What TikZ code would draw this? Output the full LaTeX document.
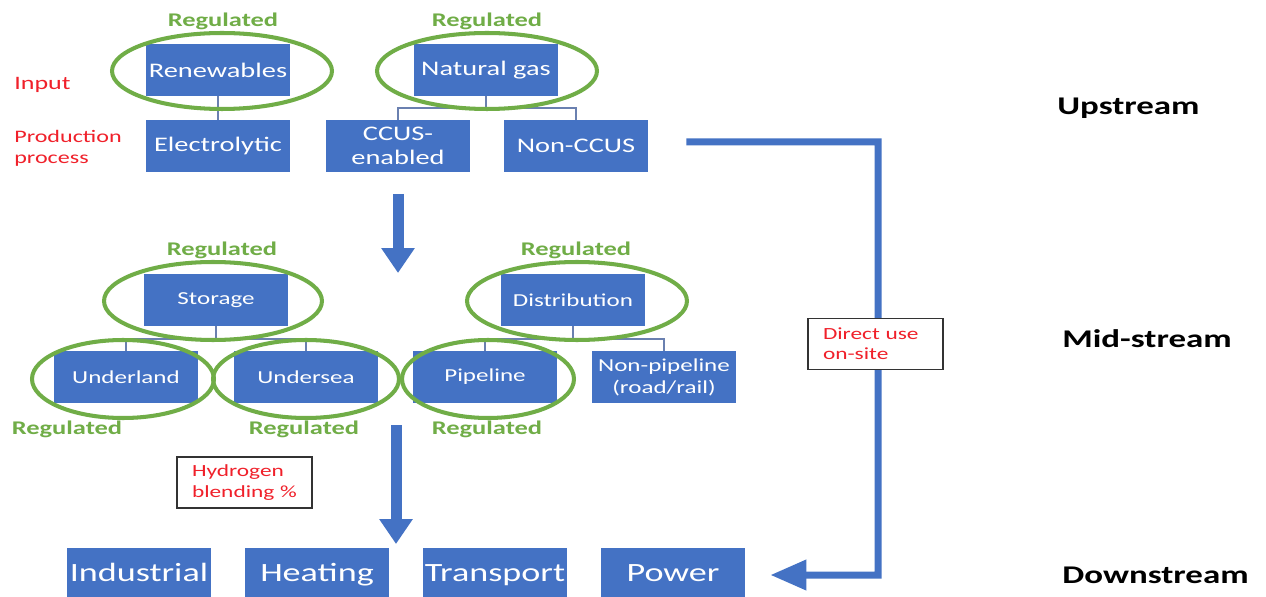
\documentclass[tikz,border=0pt]{standalone}
\usepackage{fontspec}
\setmainfont{Carlito}[FakeStretch=1.37]
\usetikzlibrary{arrows.meta}
\definecolor{boxblue}{HTML}{4472C4}
\definecolor{ringgreen}{HTML}{70AD47}
\definecolor{linkgray}{HTML}{6A80B0}
\definecolor{notered}{HTML}{F0202A}
\tikzset{
  bluebox/.style={fill=boxblue, text=white, minimum width=2.88cm, minimum height=1.04cm, inner sep=0pt, align=center, font=\fontsize{11.8}{13.5}\selectfont},
  midbox/.style={bluebox, font=\fontsize{10.4}{12.5}\selectfont},
  endbox/.style={bluebox, minimum height=1.08cm, text height=11pt, text depth=3.5pt, font=\fontsize{15}{17}\selectfont},
  ring/.style={draw=ringgreen, line width=2.3pt},
  reglabel/.style={text=ringgreen, font=\bfseries\fontsize{11}{12}\selectfont, inner sep=0pt},
  redlabel/.style={text=notered, font=\fontsize{10}{12}\selectfont, align=left, inner sep=0pt, anchor=west},
  notebox/.style={draw=black!80, line width=0.8pt, fill=white, text=notered, font=\fontsize{9.7}{11.5}\selectfont, align=left, minimum width=2.7cm, minimum height=1.02cm, text width=2.1cm, inner sep=0pt},
  streamlabel/.style={font=\bfseries\fontsize{14.5}{17}\selectfont, anchor=west, inner sep=0pt},
  link/.style={draw=linkgray, line width=0.9pt},
  downarrow/.style={draw=boxblue, line width=0.22cm, -{Triangle[length=0.5cm,width=0.64cm]}},
  sidearrow/.style={draw=boxblue, line width=0.14cm, line join=miter, -{Triangle[length=0.72cm,width=0.58cm]}}
}
\begin{document}
\begin{tikzpicture}[x=0.02cm,y=-0.02cm]
\useasboundingbox (0,0) rectangle (1266,597);
\clip (0,0) rectangle (1266,597);
\fill[white] (0,0) rectangle (1266,597);

% Upstream
\node[bluebox] (ren) at (218,70) {Renewables};
\node[bluebox] (gas) at (486,70) {Natural gas};
\node[bluebox] (ele) at (218,146) {Electrolytic};
\node[bluebox] (ccus) at (398,146) {CCUS-\\enabled};
\node[bluebox] (nonccus) at (576,146) {Non-CCUS};
\draw[link] (ren.south) -- (ele.north);
\coordinate (gasfork) at (486,108);
\draw[link] (gas.south) -- (gasfork);
\draw[link] (ccus.north) |- (gasfork) -| (nonccus.north);
\draw[ring] (222,71) ellipse [x radius=2.2cm, y radius=0.76cm];
\draw[ring] (487,71) ellipse [x radius=2.2cm, y radius=0.76cm];
\node[reglabel] (regren) at (223,21) {Regulated};
\node[reglabel] (reggas) at (487,21) {Regulated};
\node[redlabel, font=\fontsize{10.8}{12}\selectfont] (input) at (14,85) {Input};
\node[redlabel] (prod) at (14,148) {Production\\process};

% first down arrow
\coordinate (a1s) at (398,194);
\coordinate (a1e) at (398,273);
\draw[downarrow] (a1s) -- (a1e);

% Mid-stream
\node[midbox] (sto) at (216,300) {Storage};
\node[midbox] (dis) at (573,300) {Distribution};
\node[midbox] (und) at (126,377) {Underland};
\node[midbox] (sea) at (306,377) {Undersea};
\node[midbox] (pip) at (485,377) {Pipeline};
\node[midbox] (npip) at (664,377) {Non-pipeline\\(road/rail)};
\coordinate (stofork) at (216,339);
\coordinate (disfork) at (573,339);
\draw[link] (sto.south) -- (stofork);
\draw[link] (und.north) |- (stofork) -| (sea.north);
\draw[link] (dis.south) -- (disfork);
\draw[link] (pip.north) |- (disfork) -| (npip.north);
\draw[ring] (213,301) ellipse [x radius=2.18cm, y radius=0.78cm];
\draw[ring] (577,301) ellipse [x radius=2.2cm, y radius=0.78cm];
\draw[ring] (123,379) ellipse [x radius=1.82cm, y radius=0.78cm];
\draw[ring] (306,379) ellipse [x radius=1.86cm, y radius=0.78cm];
\draw[ring] (488,379) ellipse [x radius=1.72cm, y radius=0.78cm];
\node[reglabel] (regsto) at (222,250) {Regulated};
\node[reglabel] (regdis) at (576,250) {Regulated};
\node[reglabel] (regund) at (67,429) {Regulated};
\node[reglabel] (regsea) at (304,429) {Regulated};
\node[reglabel] (regpip) at (487,429) {Regulated};

% second down arrow
\coordinate (a2s) at (396,425);
\coordinate (a2e) at (396,544);
\draw[downarrow] (a2s) -- (a2e);
\node[notebox] (blend) at (244.5,482.5) {Hydrogen\\blending \%};

% Downstream
\node[endbox] (ind) at (139,575) {Industrial};
\node[endbox] (hea) at (317,575) {Heating};
\node[endbox] (tra) at (495,575) {Transport};
\node[endbox] (pow) at (673,575) {Power};

% direct use
\coordinate (turn1) at (878,142);
\coordinate (turn2) at (878,575);
\draw[sidearrow] ([xshift=0.76cm,yshift=0.08cm]nonccus.east) -- (turn1) -- (turn2) -- ([xshift=0.5cm]pow.east);
\node[notebox] (direct) at (875.5,344) {Direct use\\on-site};

% stream labels
\node[streamlabel] (up) at (1057,108) {Upstream};
\node[streamlabel] (mid) at (1062,339) {Mid-stream};
\node[streamlabel] (down) at (1062,575) {Downstream};
\end{tikzpicture}
\end{document}
